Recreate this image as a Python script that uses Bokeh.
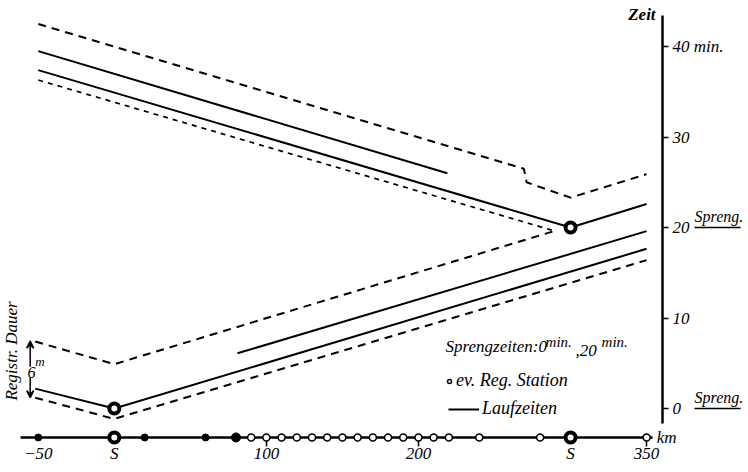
import math
from bokeh.plotting import figure
from bokeh.models import (Range1d, LinearAxis, FixedTicker, Label, Arrow, VeeHead,
                          Legend, LegendItem)
from bokeh.embed import file_html
from bokeh.resources import INLINE

FONT = "Liberation Sans Narrow"

# ---------------- data ----------------
# stations along the profile (km)
stations_filled_km = [-50, 20, 60]
station_big_filled_km = [80]
stations_open_km = [90, 100, 110, 120, 130, 140, 150, 160, 170, 180, 190, 200,
                    210, 220, 240, 280, 350]
shot_km = [0, 300]          # shot points "S"
shot_time = [0, 20]         # blast times (min)

km_ticks = [-50, 0, 100, 200, 300, 350]
km_minor_ticks = [100, 200, 350]
km_tick_labels = {0: "S", 300: "S"}
time_ticks = [0, 10, 20, 30, 40]
time_tick_labels = {40: "40 min."}

# travel-time curves, shot at 0 km (t = 0 min)
s1_solid_km = [-52, 0, 350]
s1_solid_t = [2.2, 0, 17.65]
s1_solid2_km = [81, 350]
s1_solid2_t = [6.1, 19.6]
s1_dash_lo_km = [-52, 0, 350]
s1_dash_lo_t = [1.2, -1.15, 16.4]
s1_dash_hi_km = [-52, 0, 289]
s1_dash_hi_t = [7.4, 4.9, 19.6]

# travel-time curves, shot at 300 km (t = 20 min)
s2_solid_km = [-50, 300, 350]
s2_solid_t = [37.4, 20, 22.6]
s2_solid2_km = [-50, 219]
s2_solid2_t = [39.5, 26.0]
s2_dash_hi_km = [-50, 269.3, 271.1, 300, 350]
s2_dash_hi_t = [42.5, 26.5, 25.0, 23.3, 25.9]
s2_dash_lo_km = [-50, 290]
s2_dash_lo_t = [36.3, 19.6]

# ---------------- layout constants ----------------
STATION_LINE_T = -3.2
AXIS_KM = 360.5

p = figure(width=748, height=472,
           x_range=Range1d(-74.83, 417.0), y_range=Range1d(-7.07, 45.09),
           x_axis_type=None, y_axis_type=None,
           output_backend="svg", toolbar_location=None, title=None,
           min_border_left=0, min_border_right=0, min_border_top=0,
           min_border_bottom=0)
p.outline_line_color = None
p.background_fill_color = "white"
p.border_fill_color = "white"

# time axis
yax = LinearAxis(ticker=FixedTicker(ticks=time_ticks), bounds=(-1.66, 43.43),
                 fixed_location=AXIS_KM, major_label_overrides=time_tick_labels)
yax.axis_line_width = 2.5
yax.axis_line_color = "black"
yax.major_tick_out = 6
yax.major_tick_in = 0
yax.major_tick_line_width = 1.5
yax.major_tick_line_color = "black"
yax.minor_tick_out = 0
yax.minor_tick_in = 0
yax.major_label_standoff = 4
yax.major_label_text_font = FONT
yax.major_label_text_font_style = "italic"
yax.major_label_text_font_size = "17px"
yax.major_label_text_color = "black"
p.add_layout(yax, "right")

# km axis (station line)
xax = LinearAxis(ticker=FixedTicker(ticks=km_ticks, minor_ticks=km_minor_ticks),
                 fixed_location=STATION_LINE_T, bounds=(-62, 354),
                 major_label_overrides=km_tick_labels)
xax.level = "underlay"
xax.axis_line_width = 2.5
xax.axis_line_color = "black"
xax.major_tick_out = 0
xax.major_tick_in = 0
xax.minor_tick_out = 9
xax.minor_tick_in = 0
xax.minor_tick_line_width = 1.5
xax.minor_tick_line_color = "black"
xax.major_label_standoff = -2
xax.major_label_text_font = FONT
xax.major_label_text_font_style = "italic"
xax.major_label_text_font_size = "17px"
xax.major_label_text_color = "black"
p.add_layout(xax, "below")

# curves
solid = dict(line_color="black", line_width=2)
dash = dict(line_color="black", line_width=2, line_dash="8 6")
fine_dash = dict(line_color="black", line_width=1.7, line_dash="5 5")

lauf_r = p.line(s1_solid_km, s1_solid_t, **solid)
p.line(s1_solid2_km, s1_solid2_t, **solid)
p.line(s1_dash_lo_km, s1_dash_lo_t, **dash)
p.line(s1_dash_hi_km, s1_dash_hi_t, **dash)
p.line(s2_solid_km, s2_solid_t, **solid)
p.line(s2_solid2_km, s2_solid2_t, **solid)
p.line(s2_dash_hi_km, s2_dash_hi_t, **dash)
p.line(s2_dash_lo_km, s2_dash_lo_t, **fine_dash)

# shot points in the time-distance plot
p.scatter(shot_km, shot_time, marker="circle", size=10, line_width=4,
          line_color="black", fill_color="white")

# stations on the profile line
p.scatter(stations_filled_km, [STATION_LINE_T] * len(stations_filled_km),
          marker="circle", size=7, line_color="black", fill_color="black")
p.scatter(station_big_filled_km, [STATION_LINE_T] * len(station_big_filled_km),
          marker="circle", size=9, line_color="black", fill_color="black")
open_r = p.scatter(stations_open_km, [STATION_LINE_T] * len(stations_open_km),
                   marker="circle", size=7, line_width=1.5, line_color="black",
                   fill_color="white")
p.scatter(shot_km, [STATION_LINE_T] * len(shot_km), marker="circle", size=10,
          line_width=4, line_color="black", fill_color="white")

# legend
common_leg = dict(padding=0, margin=0, border_line_color=None,
                  background_fill_alpha=0, label_text_font=FONT,
                  label_text_font_style="italic", label_text_font_size="18px",
                  label_text_color="black", glyph_height=20, label_height=20)
leg1 = Legend(items=[LegendItem(label="ev. Reg. Station", renderers=[open_r])],
              location=(444, 81), glyph_width=10, label_standoff=2, **common_leg)
leg2 = Legend(items=[LegendItem(label="Laufzeiten", renderers=[lauf_r])],
              location=(448, 53), glyph_width=31, label_standoff=3, **common_leg)
p.add_layout(leg1)
p.add_layout(leg2)

def lab(text, x, y, size="16px", style="italic", **kw):
    l = Label(x=x, y=y, text=text, text_font=FONT, text_font_style=style,
              text_font_size=size, text_color="black", **kw)
    p.add_layout(l)
    return l

# header of legend with superscripts
HX, HY = 216.5, 5.75
lab("Sprengzeiten:0", HX, HY, size="17px", x_offset=2)
lab("min.", HX, HY, size="15px", x_offset=102, y_offset=6)
lab(",20", HX, HY, size="17px", x_offset=132)
lab("min.", HX, HY, size="15px", x_offset=158, y_offset=6)

# axis title and blast-time marks
lab("Zeit", AXIS_KM, 42.5, size="17px", style="bold italic",
    text_align="right", x_offset=-7)
for t in shot_time:
    lab("Spreng.", AXIS_KM, t, x_offset=32, y_offset=3)
    p.add_layout(Arrow(x_start=381.5, y_start=t, x_end=411.8, y_end=t,
                       start=None, end=None, line_width=1.5, line_color="black"))
lab("km", 354, STATION_LINE_T, size="17px", x_offset=4, text_baseline="middle")

# recording duration marker
lab("Registr. Dauer", -61.2, 0.88, size="17px", angle=math.pi / 2)
p.add_layout(Arrow(x_start=-55.3, y_start=4.3, x_end=-55.3, y_end=7.45,
                   end=VeeHead(size=7, line_width=1.5, fill_color="black"),
                   line_width=1.5))
p.add_layout(Arrow(x_start=-55.3, y_start=4.3, x_end=-55.3, y_end=1.2,
                   end=VeeHead(size=7, line_width=1.5, fill_color="black"),
                   line_width=1.5))
lab("6", -57.1, 3.4, background_fill_color="white")
lab("m", -51.9, 4.42, size="13px")

open("out.html", "w").write(file_html(p, INLINE))
